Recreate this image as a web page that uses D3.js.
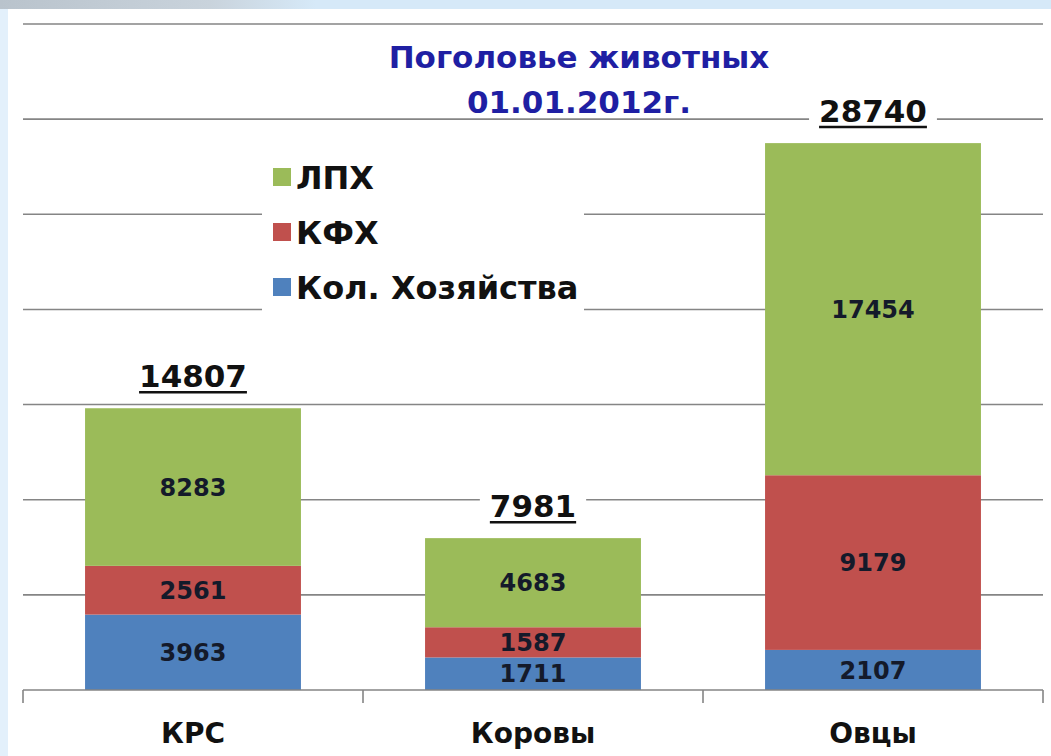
<!DOCTYPE html>
<html><head><meta charset="utf-8">
<script src="https://cdn.jsdelivr.net/npm/d3@7"></script>
<style>body{margin:0;background:#fff;}svg{display:block;}</style>
</head><body>
<svg id="c" width="1051" height="756"></svg>
<script>
const categories = ["КРС", "Коровы", "Овцы"];
const seriesKeys = ["Кол. Хозяйства", "КФХ", "ЛПХ"];
const kolValues = [3963, 1711, 2107];
const kfhValues = [2561, 1587, 9179];
const lphValues = [8283, 4683, 17454];
const totals = [14807, 7981, 28740];
const yTicks = [0, 5000, 10000, 15000, 20000, 25000, 30000, 35000];
const legendOrder = ["ЛПХ", "КФХ", "Кол. Хозяйства"];
const colors = {"Кол. Хозяйства": "#4F81BD", "КФХ": "#C0504D", "ЛПХ": "#9BBB59"};
const titleLines = ["Поголовье животных", "01.01.2012г."];

const rows = categories.map((c, i) => ({cat: c, "Кол. Хозяйства": kolValues[i], "КФХ": kfhValues[i], "ЛПХ": lphValues[i], total: totals[i]}));

const svg = d3.select("#c");

// frame background
const defs = svg.append("defs");
const lg = defs.append("linearGradient").attr("id", "topg").attr("x1", 0).attr("x2", 1).attr("y1", 0).attr("y2", 0);
lg.append("stop").attr("offset", "0").attr("stop-color", "#b9c3cc");
lg.append("stop").attr("offset", "0.2").attr("stop-color", "#c9d3dc");
lg.append("stop").attr("offset", "0.3").attr("stop-color", "#d6e9f8");
lg.append("stop").attr("offset", "1").attr("stop-color", "#d6e9f8");
svg.append("rect").attr("x", 0).attr("y", 0).attr("width", 1051).attr("height", 756).attr("fill", "#e3f0fb");
svg.append("rect").attr("x", 0).attr("y", 0).attr("width", 1051).attr("height", 9).attr("fill", "url(#topg)");
svg.append("rect").attr("x", 8).attr("y", 9).attr("width", 1043).attr("height", 747).attr("fill", "#ffffff");

const x = d3.scaleBand().domain(categories).range([23, 1043]).paddingInner(0.365).paddingOuter(0.1825);
const y = d3.scaleLinear().domain([0, 35000]).range([690, 24]);

// gridlines
svg.append("g").selectAll("line").data(yTicks.slice(1)).join("line")
  .attr("x1", 23).attr("x2", 1043)
  .attr("y1", d => y(d)).attr("y2", d => y(d))
  .attr("stroke", "#858585").attr("stroke-width", 1.6);

// stacked bars
const stack = d3.stack().keys(seriesKeys)(rows);
const gBars = svg.append("g");
stack.forEach(s => {
  gBars.append("g").attr("fill", colors[s.key]).selectAll("rect").data(s).join("rect")
    .attr("x", d => x(d.data.cat))
    .attr("width", x.bandwidth())
    .attr("y", d => y(d[1]))
    .attr("height", d => y(d[0]) - y(d[1]));
});

// segment labels
stack.forEach(s => {
  svg.append("g").selectAll("text").data(s).join("text")
    .attr("x", d => x(d.data.cat) + x.bandwidth() / 2)
    .attr("y", d => (y(d[0]) + y(d[1])) / 2)
    .attr("dy", "0.36em")
    .attr("text-anchor", "middle")
    .attr("font-family", "DejaVu Sans, sans-serif")
    .attr("font-weight", "bold")
    .attr("font-size", 24)
    .attr("fill", "#141a2a")
    .text(d => d.data[s.key]);
});

// total labels (white background)
const gTot = svg.append("g");
rows.forEach(r => {
  const cx = x(r.cat) + x.bandwidth() / 2;
  const by = y(r.total) - 21;
  const t = gTot.append("text")
    .attr("x", cx).attr("y", by)
    .attr("text-anchor", "middle")
    .attr("font-family", "DejaVu Sans, sans-serif")
    .attr("font-weight", "bold")
    .attr("font-size", 31)
    .attr("fill", "#111")
    .text(r.total);
  const bb = t.node().getBBox();
  gTot.insert("rect", "text").attr("x", bb.x - 10).attr("y", bb.y).attr("width", bb.width + 20).attr("height", bb.height + 6).attr("fill", "#fff");
  gTot.append("line").attr("x1", bb.x).attr("x2", bb.x + bb.width).attr("y1", by + 5).attr("y2", by + 5)
    .attr("stroke", "#111").attr("stroke-width", 2.5);
});

// x axis
const xAxis = svg.append("g");
xAxis.append("line").attr("x1", 23).attr("x2", 1043).attr("y1", 690).attr("y2", 690).attr("stroke", "#858585").attr("stroke-width", 1.6);
const tickXs = categories.map(c => x(c) - x.step() * x.paddingInner() / 2).concat([1043]);
xAxis.selectAll("line.t").data(tickXs).join("line").attr("class", "t")
  .attr("x1", d => d).attr("x2", d => d).attr("y1", 690).attr("y2", 703)
  .attr("stroke", "#858585").attr("stroke-width", 1.6);
xAxis.selectAll("text").data(categories).join("text")
  .attr("x", d => x(d) + x.bandwidth() / 2)
  .attr("y", 743)
  .attr("text-anchor", "middle")
  .attr("font-family", "DejaVu Sans, sans-serif")
  .attr("font-weight", "bold")
  .attr("font-size", 28)
  .attr("fill", "#111")
  .text(d => d);

// legend
const gL = svg.append("g");
gL.append("rect").attr("x", 262).attr("y", 150).attr("width", 322).attr("height", 165).attr("fill", "#fff");
legendOrder.forEach((k, i) => {
  const cy = 177 + i * 55;
  gL.append("rect").attr("x", 273).attr("y", cy - 9).attr("width", 18).attr("height", 18).attr("fill", colors[k]);
  gL.append("text").attr("x", 296).attr("y", cy).attr("dy", "0.36em")
    .attr("font-family", "DejaVu Sans, sans-serif")
    .attr("font-weight", "bold").attr("font-size", 32).attr("fill", "#111").text(k);
});

// title
const gT = svg.append("g");
titleLines.forEach((t, i) => {
  gT.append("text").attr("x", 579).attr("y", 68 + i * 45)
    .attr("text-anchor", "middle")
    .attr("font-family", "DejaVu Sans, sans-serif")
    .attr("font-weight", "bold").attr("font-size", 31)
    .attr("fill", "#1f1fa3").text(t);
});
</script>
</body></html>
